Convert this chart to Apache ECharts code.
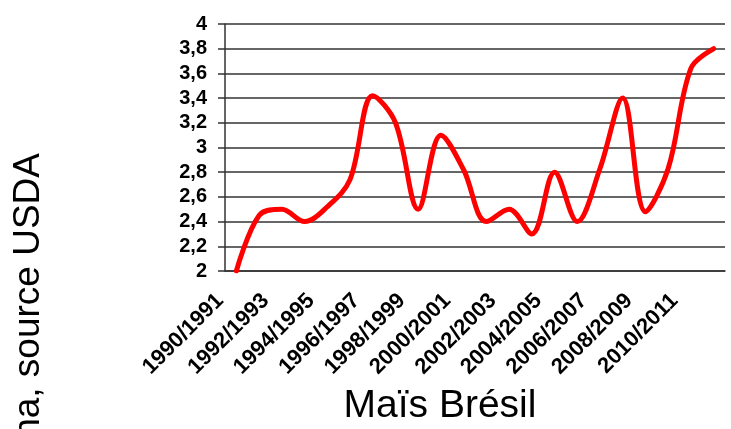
<!DOCTYPE html>
<html>
<head>
<meta charset="utf-8">
<script src="https://cdn.jsdelivr.net/npm/echarts@6/dist/echarts.min.js"></script>
<style>
  html, body { margin: 0; padding: 0; background: #fff; }
  #chart { width: 731px; height: 429px; }
</style>
</head>
<body>
<div id="chart"></div>
<script>
// campagnes (axe x)
const campagnes = [
  '1990/1991', '1991/1992', '1992/1993', '1993/1994', '1994/1995', '1995/1996',
  '1996/1997', '1997/1998', '1998/1999', '1999/2000', '2000/2001', '2001/2002',
  '2002/2003', '2003/2004', '2004/2005', '2005/2006', '2006/2007', '2007/2008',
  '2008/2009', '2009/2010', '2010/2011', '2011/2012'
];
// rendement maïs Brésil, t/ha
const rendement = [
  2.0, 2.45, 2.5, 2.4, 2.52, 2.74,
  3.42, 3.2, 2.5, 3.1, 2.82, 2.4,
  2.5, 2.3, 2.8, 2.4, 2.83, 3.4,
  2.48, 2.83, 3.64, 3.8
];
const yMin = 2;
const yMax = 4;
const yStep = 0.2;

const fontFam = "'Liberation Sans', Arial, sans-serif";
const lineCol = '#333';

var myChart = echarts.init(document.getElementById('chart'));
let option = {
  animation: false,
  backgroundColor: '#fff',
  grid: {
    left: 225,
    right: 6,
    top: 24,
    bottom: 158
  },
  graphic: [
    {
      type: 'text',
      x: 47,
      y: 153,
      rotation: Math.PI / 2,
      style: {
        text: 'Rendement t/ha, source USDA',
        font: '37px ' + fontFam,
        fill: '#000',
        align: 'right',
        verticalAlign: 'bottom'
      }
    },
    {
      type: 'text',
      x: 440,
      y: 406,
      style: {
        text: 'Maïs Brésil',
        font: '39px ' + fontFam,
        fill: '#000',
        align: 'center',
        verticalAlign: 'middle'
      }
    }
  ],
  xAxis: {
    type: 'category',
    boundaryGap: true,
    data: campagnes,
    axisLine: { show: true, lineStyle: { color: lineCol, width: 1.5 } },
    axisTick: { show: false },
    axisLabel: {
      interval: 1,
      rotate: 45,
      margin: 10,
      padding: [0, 23, 0, 0],
      fontFamily: fontFam,
      fontWeight: 'bold',
      fontSize: 22,
      color: '#000'
    },
    splitLine: { show: false }
  },
  yAxis: {
    type: 'value',
    min: yMin,
    max: yMax,
    interval: yStep,
    axisLine: { show: true, lineStyle: { color: lineCol, width: 1.5 } },
    axisTick: { show: true, length: 7, lineStyle: { color: lineCol, width: 1.5 } },
    axisLabel: {
      margin: 18,
      fontFamily: fontFam,
      fontWeight: 'bold',
      fontSize: 20,
      color: '#000',
      formatter: function (v) {
        return String(Math.round(v * 10) / 10).replace('.', ',');
      }
    },
    splitLine: { show: true, lineStyle: { color: lineCol, width: 1.5 } }
  },
  series: [
    {
      name: 'Maïs Brésil',
      type: 'line',
      data: rendement,
      smooth: 0.35,
      showSymbol: false,
      lineStyle: { color: '#ff0000', width: 5, cap: 'round' }
    }
  ]
};
myChart.setOption(option);
</script>
</body>
</html>
